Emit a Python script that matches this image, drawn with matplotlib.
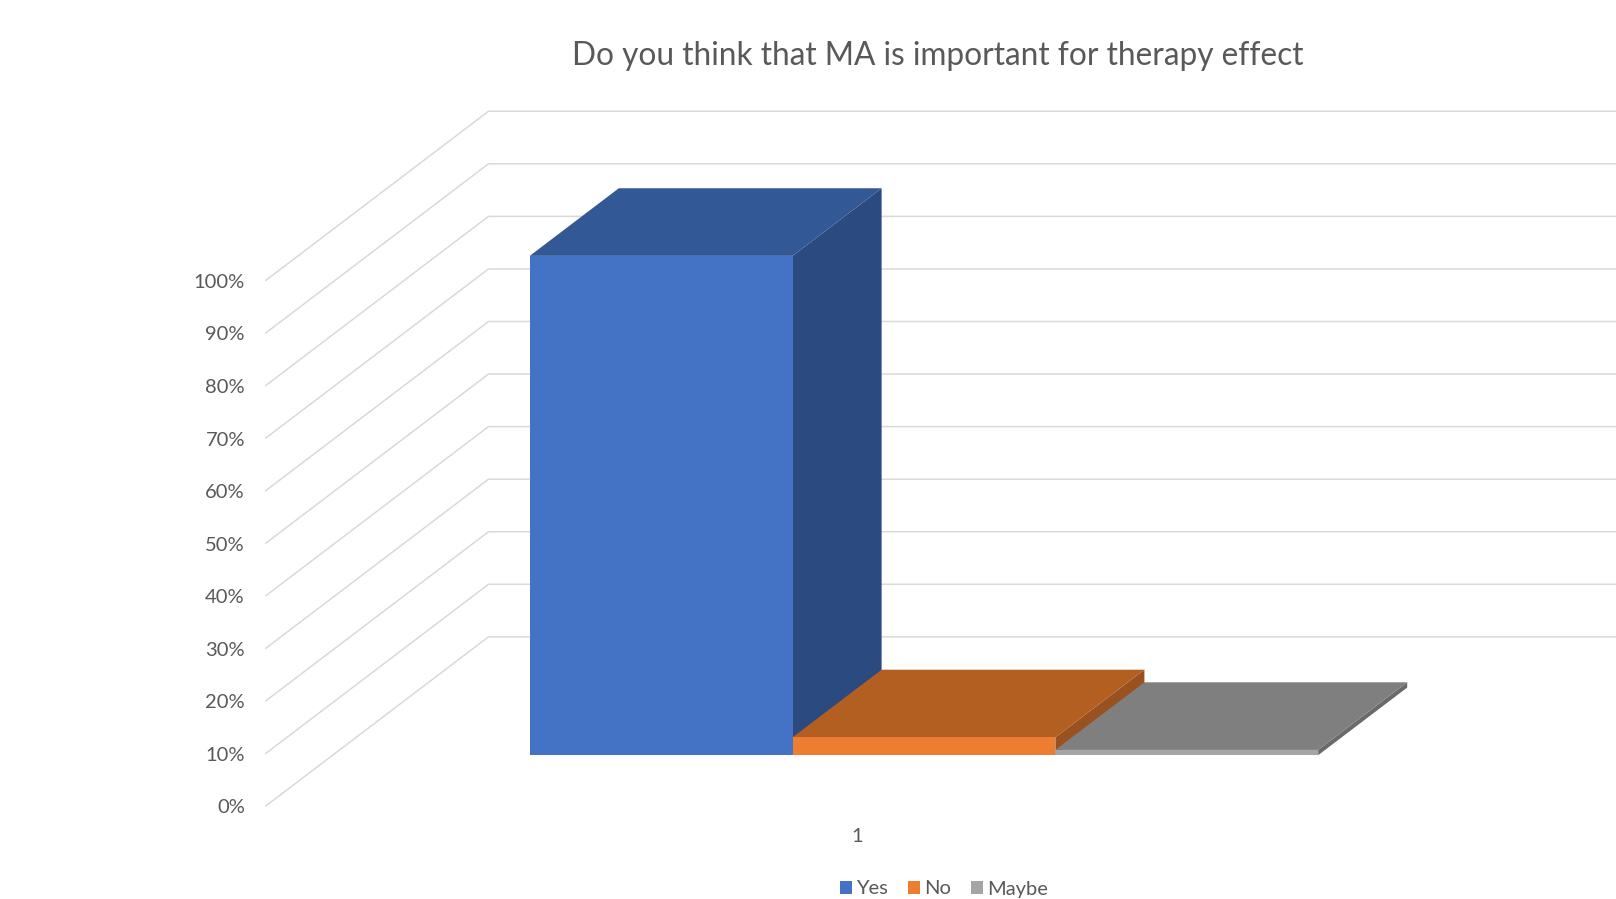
import matplotlib.pyplot as plt
from matplotlib.patches import Polygon, Patch

plt.rcParams["font.family"] = ["Lato", "DejaVu Sans"]

# Data
title = "Do you think that MA is important for therapy effect"
category = "1"
series = ["Yes", "No", "Maybe"]
values = [95, 3.4, 1]
value_ticks = [0, 10, 20, 30, 40, 50, 60, 70, 80, 90, 100]
tick_labels = [f"{v}%" for v in value_ticks]

front_colors = ["#4472C4", "#ED7D31", "#A5A5A5"]
top_colors = ["#335896", "#B45F22", "#7F7F7F"]
side_colors = ["#2B4A80", "#9A5120", "#6A6A6A"]

# Excel-like 3D geometry (units = bar width)
GAP = 0.75          # half of 150% gap width
DEPTH_GAP = 0.75    # half of 150% gap depth
BAR_DEPTH = 1.0
TOTAL_DEPTH = 2 * DEPTH_GAP + BAR_DEPTH
CX, CY = 0.3388, 0.2573   # oblique shift per depth unit
VS = 0.02                 # height per percent
TEXT_COLOR = "#595959"
GRID_COLOR = "#D9D9D9"


def proj(x, d, v):
    return (x + d * CX, v * VS + d * CY)


fig = plt.figure(figsize=(16.16, 8.99), dpi=100)
ax = fig.add_axes([0, 0, 1, 1])
ax.set_xlim(-1.0118, 5.1374)
ax.set_ylim(-0.3543, 3.0666)
ax.axis("off")

floor_width = 2 * GAP + len(series)

# side wall and back wall gridlines
for v in value_ticks:
    p0 = proj(0, 0, v)
    p1 = proj(0, TOTAL_DEPTH, v)
    p2 = proj(floor_width, TOTAL_DEPTH, v)
    ax.plot([p0[0], p1[0], p2[0]], [p0[1], p1[1], p2[1]],
            color=GRID_COLOR, lw=1.1, solid_joinstyle="miter", zorder=1)

for v, lab in zip(value_ticks, tick_labels):
    x, y = proj(0, 0, v)
    ax.text(x - 0.08, y - 0.008, lab, ha="right", va="center", fontsize=14.5, color=TEXT_COLOR)

# bars, left to right
d0, d1 = DEPTH_GAP, DEPTH_GAP + BAR_DEPTH
for i, (val, fc, tc, sc) in enumerate(zip(values, front_colors, top_colors, side_colors)):
    x0, x1 = GAP + i, GAP + i + 1
    front = [proj(x0, d0, 0), proj(x1, d0, 0), proj(x1, d0, val), proj(x0, d0, val)]
    top = [proj(x0, d0, val), proj(x1, d0, val), proj(x1, d1, val), proj(x0, d1, val)]
    side = [proj(x1, d0, 0), proj(x1, d1, 0), proj(x1, d1, val), proj(x1, d0, val)]
    ax.add_patch(Polygon(side, closed=True, fc=sc, ec="none", zorder=2 + i))
    ax.add_patch(Polygon(top, closed=True, fc=tc, ec="none", zorder=2 + i))
    ax.add_patch(Polygon(front, closed=True, fc=fc, ec="none", zorder=2 + i))

# category label
cx, cy = proj(floor_width / 2, 0, 0)
ax.text(cx, cy - 0.115, category, ha="center", va="center", fontsize=14.5, color=TEXT_COLOR)

fig.text(0.5805, 1 - 56 / 899, title, ha="center", va="center", fontsize=22.8, color=TEXT_COLOR)

handles = [Patch(facecolor=c, edgecolor="none", label=s) for s, c in zip(series, front_colors)]
fig.legend(handles=handles, loc="center", bbox_to_anchor=(944 / 1616, 1 - 889 / 899),
           ncol=3, frameon=False, fontsize=14.5, labelcolor=TEXT_COLOR,
           handlelength=0.6, handleheight=0.6, handletextpad=0.2, columnspacing=1.0)

fig.savefig("out.png", dpi=100)
